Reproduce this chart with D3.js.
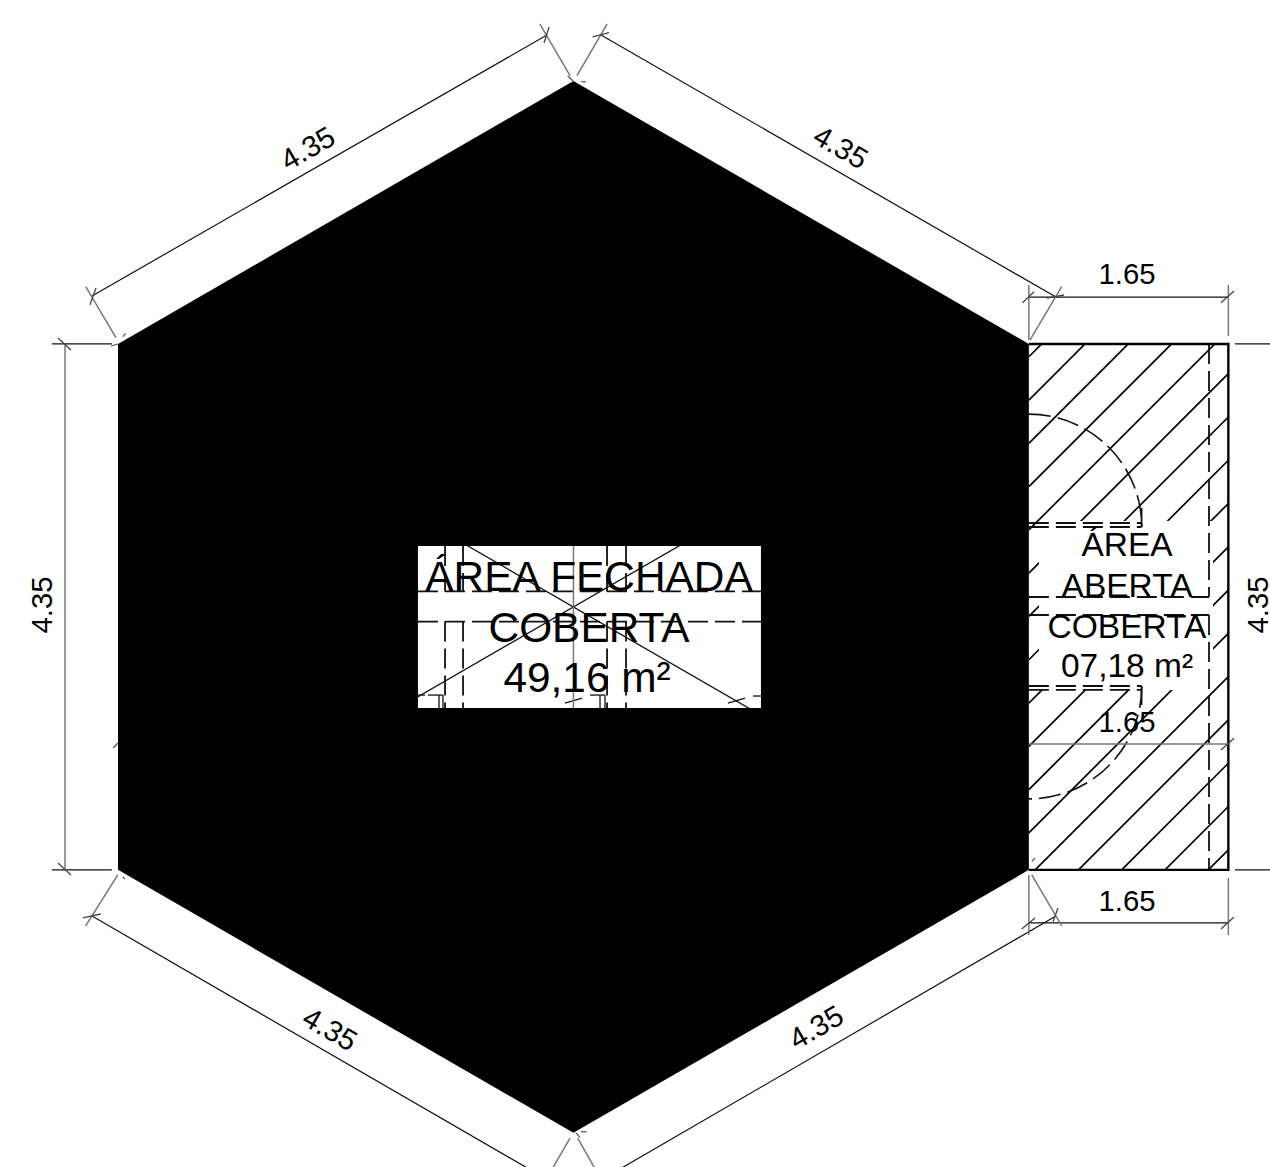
<!DOCTYPE html>
<html>
<head>
<meta charset="utf-8">
<script src="https://cdn.jsdelivr.net/npm/d3@7"></script>
<style>
  html, body { margin: 0; padding: 0; background: #fff; overflow: hidden; }
  svg { display: block; }
  text { font-family: "Liberation Sans", Arial, sans-serif; fill: #000; text-anchor: middle; }
</style>
</head>
<body>
<div class="chart"></div>
<script>
// all plan values in metres, from the top-left of the hexagon's bounding box
var svgWidth = 1270;
var svgHeight = 1167;

var hexagon = [[3.767, 0], [7.534, 2.175], [7.534, 6.525], [3.767, 8.7], [0, 6.525], [0, 2.175]];
var varanda = [[7.534, 2.175], [9.184, 2.175], [9.184, 6.525], [7.534, 6.525]];

// hatch lines: x + y = value
var hatchValues = [9.815, 10.173, 10.531, 10.889, 11.247, 11.605, 11.963, 12.321, 12.679,
  13.037, 13.395, 13.753, 14.111, 14.469, 14.827, 15.185, 15.543];

// [x1, y1, x2, y2]
var dimLines = [
  [-0.215, 1.778, 3.548, -0.380], [3.995, -0.380, 7.758, 1.787],
  [-0.215, 6.907, 3.557, 9.090], [7.758, 6.907, 3.995, 9.090],
  [7.534, 1.787, 9.184, 1.787], [7.534, 6.964, 9.184, 6.964],
  [-0.546, 2.175, -0.050, 2.175], [-0.546, 6.525, -0.050, 6.525],
  [9.239, 2.175, 9.600, 2.175], [9.239, 6.525, 9.600, 6.525]
];
var extLines = [
  [-0.267, 1.701, -0.017, 2.123], [3.490, -0.471, 3.739, -0.044],
  [4.045, -0.471, 3.796, -0.044], [7.806, 1.701, 7.544, 2.142],
  [-0.002, 6.567, -0.267, 6.989], [3.739, 8.743, 3.490, 9.173],
  [7.558, 6.567, 7.806, 6.989], [3.802, 8.743, 4.045, 9.173],
  [7.534, 1.687, 7.534, 2.142], [9.184, 1.687, 9.184, 2.109],
  [7.534, 6.567, 7.534, 7.064], [9.184, 6.592, 9.184, 7.064],
  [-0.438, 2.175, -0.438, 6.525], [7.534, 5.484, 9.184, 5.484]
];
var tickMarks = [
  [3.524, -0.314, 3.565, -0.447], [-0.232, 1.851, -0.182, 1.712],
  [3.926, -0.364, 4.061, -0.400], [7.682, 1.795, 7.825, 1.770],
  [-0.290, 6.923, -0.143, 6.890], [7.734, 6.954, 7.775, 6.841],
  [7.482, 1.834, 7.576, 1.743], [9.123, 1.834, 9.231, 1.737],
  [7.475, 7.014, 7.585, 6.923], [9.123, 7.014, 9.231, 6.915],
  [9.123, 5.533, 9.231, 5.437], [-0.496, 2.126, -0.389, 2.225],
  [-0.496, 6.468, -0.389, 6.567]
];
// little leftovers around the hexagon corners
var stubs = [
  [3.720, -0.041, 3.764, 0], [3.830, 0.006, 3.871, 0.006],
  [-0.058, 2.192, -0.002, 2.175], [0.039, 2.115, 0.064, 2.087],
  [0.039, 6.582, 0.058, 6.601], [3.786, 8.699, 3.821, 8.737],
  [3.830, 8.691, 3.877, 8.691], [7.558, 6.457, 7.585, 6.427],
  [-0.041, 5.517, 0, 5.476]
];

// white window over the hatch of the open area
var varandaMask = [7.618, 3.639, 9.057, 5.037];
var varandaDashed = [
  [9.024, 2.175, 9.024, 4.268], [9.024, 4.417, 9.024, 6.525],
  [7.534, 4.268, 9.024, 4.268], [7.534, 4.417, 9.024, 4.417],
  [7.534, 3.656, 8.466, 3.656], [7.534, 3.689, 8.466, 3.689],
  [7.534, 5.004, 8.466, 5.004], [7.534, 5.037, 8.466, 5.037]
];
var varandaSolid = [[8.466, 3.532, 8.466, 3.689], [8.466, 5.004, 8.466, 5.161]];
// door swings [cx, cy, r, startAngle, endAngle], radians, clockwise from east
var swings = [
  [7.534, 3.689, 0.934, -Math.PI / 2, 0],
  [7.534, 5.004, 0.934, 0, Math.PI / 2]
];

// white window in the middle of the black hexagon
var centerBox = [2.481, 3.846, 5.318, 5.186];
var centerDashed = [
  [2.481, 4.222, 5.318, 4.222], [2.481, 4.471, 5.318, 4.471],
  [2.705, 3.846, 2.705, 4.222], [2.854, 3.846, 2.854, 4.222],
  [4.045, 3.846, 4.045, 4.222], [4.202, 3.846, 4.202, 4.222],
  [2.705, 4.471, 2.705, 5.186], [2.854, 4.471, 2.854, 5.186],
  [4.045, 4.471, 4.045, 5.186], [4.202, 4.471, 4.202, 5.186]
];
var centerThin = [
  [0, 2.175, 7.534, 6.525], [0, 6.525, 7.534, 2.175],
  [2.481, 5.079, 2.539, 5.079], [2.563, 5.079, 2.688, 5.079],
  [2.655, 5.079, 2.655, 5.186], [2.688, 5.079, 2.688, 5.186],
  [3.904, 5.079, 4.028, 5.079], [3.987, 5.079, 3.987, 5.186],
  [4.028, 5.079, 4.028, 5.186],
  [3.697, 5.145, 3.838, 5.104], [5.045, 5.145, 5.186, 5.104],
  [5.252, 5.087, 5.318, 5.087]
];
var centerAxis = [[3.767, 3.846, 3.767, 5.186]];

// room labels: baseline position
var roomTexts = ["ÁREA FECHADA", "COBERTA", "49,16 m²"];
var roomX = [3.896, 3.896, 3.880];
var roomY = [4.218, 4.638, 5.056];
var openTexts = ["ÁREA", "ABERTA", "COBERTA", "07,18 m²"];
var openX = [8.346, 8.346, 8.346, 8.346];
var openY = [3.929, 4.268, 4.608, 4.933];

// dimension labels: centre position and rotation
var dimTexts = ["4.35", "4.35", "4.35", "4.35", "4.35", "4.35", "1.65", "1.65", "1.65"];
var dimX = [1.568, 5.978, 1.754, 5.773, -0.629, 9.430, 8.346, 8.346, 8.346];
var dimY = [0.555, 0.546, 7.841, 7.825, 4.334, 4.334, 1.596, 6.778, 5.298];
var dimAngle = [-30, 30, 30, -30, -90, -90, 0, 0, 0];

var pxPerMetre = 120.9;
var xScale = d3.scaleLinear().domain([0, 1]).range([118, 118 + pxPerMetre]);
var yScale = d3.scaleLinear().domain([0, 1]).range([81, 81 + pxPerMetre]);

var svg = d3.select(".chart").append("svg")
  .attr("width", svgWidth)
  .attr("height", svgHeight)
  .style("background", "#fff");

var polyPoints = function (pts) {
  return pts.map(function (p) { return xScale(p[0]) + "," + yScale(p[1]); }).join(" ");
};

function drawSegments(parent, list, color, lineWidth, dash) {
  parent.append("g").selectAll("line").data(list).join("line")
    .attr("x1", function (d) { return xScale(d[0]); })
    .attr("y1", function (d) { return yScale(d[1]); })
    .attr("x2", function (d) { return xScale(d[2]); })
    .attr("y2", function (d) { return yScale(d[3]); })
    .attr("stroke", color)
    .attr("stroke-width", lineWidth)
    .attr("stroke-dasharray", dash || null);
}

function boxRect(parent, b) {
  return parent.append("rect")
    .attr("x", xScale(b[0]))
    .attr("y", yScale(b[1]))
    .attr("width", xScale(b[2]) - xScale(b[0]))
    .attr("height", yScale(b[3]) - yScale(b[1]));
}

// clip rectangles
var defs = svg.append("defs");
boxRect(defs.append("clipPath").attr("id", "centerClip"), centerBox);
boxRect(defs.append("clipPath").attr("id", "varandaClip"), [varanda[0][0], varanda[0][1], varanda[1][0], varanda[2][1]]);

// hatch of the open area, y = value - x, from edge to edge
var hatchSegments = hatchValues.map(function (v) {
  return [varanda[0][0], v - varanda[0][0], varanda[1][0], v - varanda[1][0]];
});
var varandaGroup = svg.append("g").attr("clip-path", "url(#varandaClip)");
drawSegments(varandaGroup, hatchSegments, "#000", 1.7);
boxRect(svg, varandaMask).attr("fill", "#fff");

drawSegments(svg, varandaDashed, "#111", 1.8, "20 7");
drawSegments(svg, varandaSolid, "#111", 1.8);

svg.append("g").selectAll("path").data(swings).join("path")
  .attr("fill", "none")
  .attr("stroke", "#111")
  .attr("stroke-width", 1.6)
  .attr("stroke-dasharray", "22 7")
  .attr("d", function (d) {
    var p = d3.path();
    p.arc(xScale(d[0]), yScale(d[1]), xScale(d[2]) - xScale(0), d[3], d[4]);
    return p.toString();
  });

svg.append("polyline")
  .attr("points", polyPoints(varanda))
  .attr("fill", "none")
  .attr("stroke", "#000")
  .attr("stroke-width", 2.4);

// black hexagon and the white window
svg.append("polygon").attr("points", polyPoints(hexagon)).attr("fill", "#000");
boxRect(svg, centerBox).attr("fill", "#fff");

var centerGroup = svg.append("g").attr("clip-path", "url(#centerClip)");
drawSegments(centerGroup, centerThin, "#111", 1.3);
drawSegments(centerGroup, centerDashed, "#111", 1.8, "20 7");
drawSegments(centerGroup, centerAxis, "#777", 1.5);

// dimensions
drawSegments(svg, dimLines, "#111", 1.2);
drawSegments(svg, extLines, "#777", 1.5);
drawSegments(svg, tickMarks, "#444", 1.3);
drawSegments(svg, stubs, "#555", 1.2);

// labels
function drawLabels(texts, xs, ys, size) {
  svg.append("g").selectAll("text").data(texts).join("text")
    .attr("x", function (d, i) { return xScale(xs[i]); })
    .attr("y", function (d, i) { return yScale(ys[i]); })
    .attr("font-size", size)
    .text(function (d) { return d; });
}
drawLabels(roomTexts, roomX, roomY, 42.4);
drawLabels(openTexts, openX, openY, 33.5);

svg.append("g").selectAll("text").data(dimTexts).join("text")
  .attr("transform", function (d, i) {
    return "translate(" + xScale(dimX[i]) + "," + yScale(dimY[i]) + ") rotate(" + dimAngle[i] + ")";
  })
  .attr("dy", "0.35em")
  .attr("font-size", 29.3)
  .text(function (d) { return d; });
</script>
</body>
</html>
